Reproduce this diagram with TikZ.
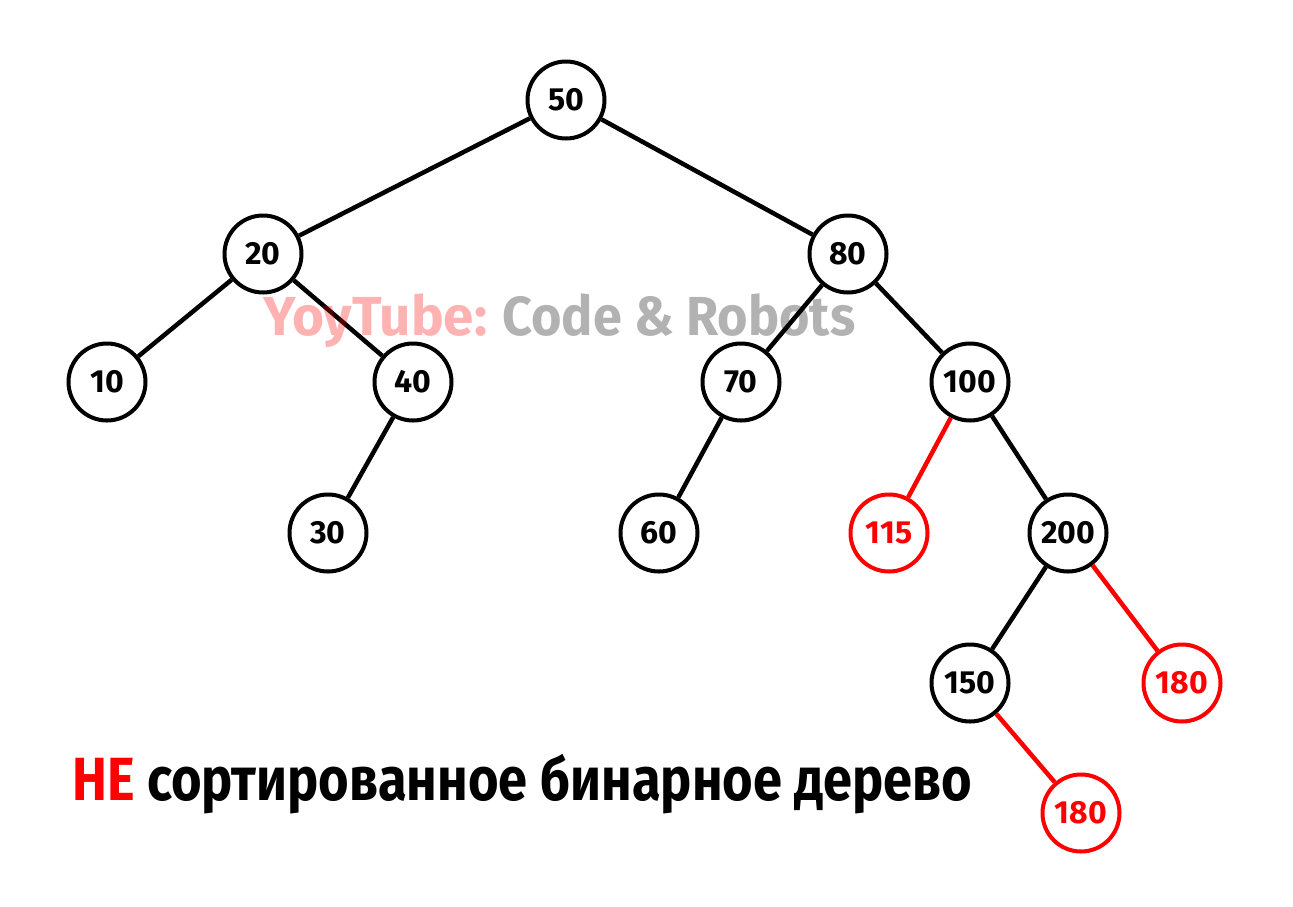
\documentclass[tikz,border=0pt]{standalone}
\usepackage{fontspec}
\setmainfont{Fira Sans}
\usepackage{graphicx}
\begin{document}
\begin{tikzpicture}[x=1pt,y=-1pt,
  tnode/.style={circle, draw=black, fill=white, line width=4pt, minimum size=77pt, inner sep=0pt,
    font=\bfseries\fontsize{32}{32}\selectfont, text=black},
  rnode/.style={tnode, draw=red, text=red},
  edge/.style={line width=4.5pt, draw=black},
  redge/.style={line width=4.5pt, draw=red},
  txt/.style={inner sep=0pt, anchor=base west}]
\useasboundingbox (0,0) rectangle (1293,906);
\fill[white] (0,0) rectangle (1293,906);
\node[tnode] (n50) at (566,100) {50};
\node[tnode] (n20) at (263,254) {20};
\node[tnode] (n80) at (848,254) {80};
\node[tnode] (n10) at (107,382) {10};
\node[tnode] (n40) at (413,382) {40};
\node[tnode] (n70) at (741,382) {70};
\node[tnode] (n100) at (970,382) {100};
\node[tnode] (n30) at (328,533) {30};
\node[tnode] (n60) at (659,533) {60};
\node[rnode] (n115) at (889,533) {115};
\node[tnode] (n200) at (1068,533) {200};
\node[tnode] (n150) at (970,683) {150};
\node[rnode] (n180a) at (1182,683) {180};
\node[rnode] (n180b) at (1081,813) {180};
\draw[edge] (n50) -- (n20);
\draw[edge] (n50) -- (n80);
\draw[edge] (n20) -- (n10);
\draw[edge] (n20) -- (n40);
\draw[edge] (n40) -- (n30);
\draw[edge] (n80) -- (n70);
\draw[edge] (n80) -- (n100);
\draw[edge] (n70) -- (n60);
\draw[redge] (n100) -- (n115);
\draw[edge] (n100) -- (n200);
\draw[edge] (n200) -- (n150);
\draw[redge] (n200) -- (n180a);
\draw[redge] (n150) -- (n180b);
\node[txt, text=red, text opacity=0.3] (wm1) at (263,335)
  {\resizebox{224pt}{\height}{\bfseries\fontsize{55}{55}\selectfont YoyTube:}};
\node[txt, text=black, text opacity=0.3] (wm2) at (502,335)
  {\resizebox{353pt}{\height}{\bfseries\fontsize{55}{55}\selectfont Code \& Robots}};
\node[txt] (title) at (72,800)
  {\resizebox{900pt}{\height}{\bfseries\fontsize{61}{61}\selectfont\textcolor{red}{НЕ} сортированное бинарное дерево}};
\end{tikzpicture}
\end{document}
